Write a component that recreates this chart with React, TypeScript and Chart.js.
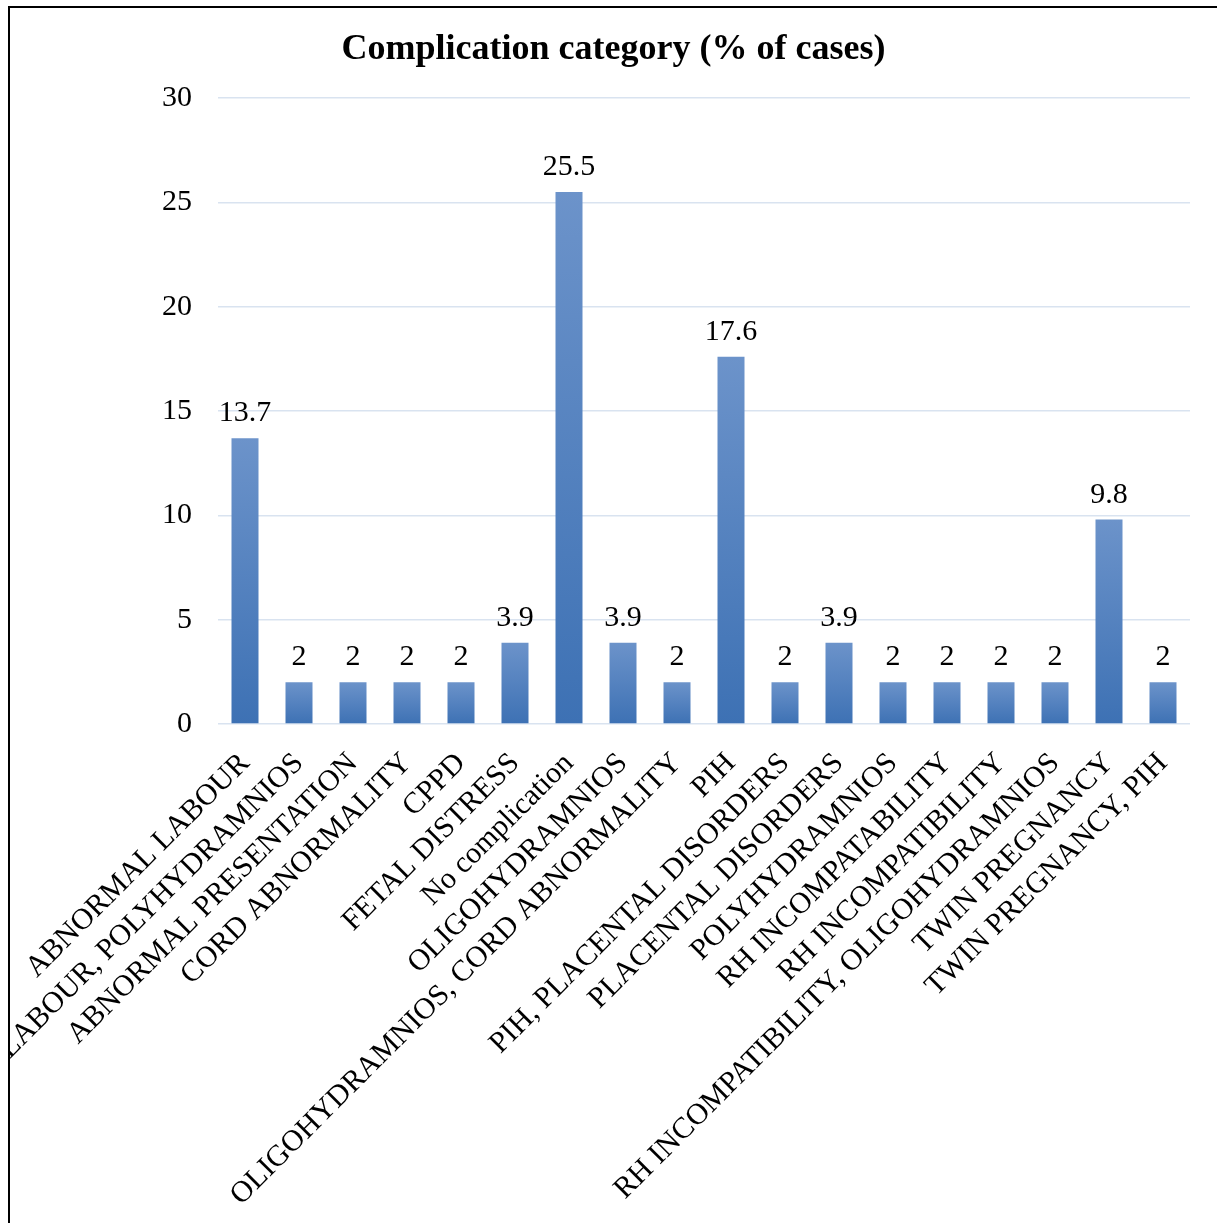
import React, { useEffect, useRef } from "react";
import { Chart, registerables } from "chart.js";

Chart.register(...registerables);

const CHART_TITLE = "Complication category (% of cases)";

const categories = [
  "ABNORMAL LABOUR",
  "ABNORMAL LABOUR, POLYHYDRAMNIOS",
  "ABNORMAL PRESENTATION",
  "CORD ABNORMALITY",
  "CPPD",
  "FETAL DISTRESS",
  "No complication",
  "OLIGOHYDRAMNIOS",
  "OLIGOHYDRAMNIOS, CORD ABNORMALITY",
  "PIH",
  "PIH, PLACENTAL DISORDERS",
  "PLACENTAL DISORDERS",
  "POLYHYDRAMNIOS",
  "RH INCOMPATABILITY",
  "RH INCOMPATIBILITY",
  "RH INCOMPATIBILITY, OLIGOHYDRAMNIOS",
  "TWIN PREGNANCY",
  "TWIN PREGNANCY, PIH",
];

const percentValues = [13.7, 2, 2, 2, 2, 3.9, 25.5, 3.9, 2, 17.6, 2, 3.9, 2, 2, 2, 2, 9.8, 2];

const yTickValues = [0, 5, 10, 15, 20, 25, 30];

const FONT = "'Liberation Serif', 'Times New Roman', serif";

const dataLabelPlugin = {
  id: "dataLabels",
  afterDatasetsDraw(chart: any) {
    const ctx = chart.ctx;
    const meta = chart.getDatasetMeta(0);
    ctx.save();
    ctx.font = `30px ${FONT}`;
    ctx.fillStyle = "#000000";
    ctx.textAlign = "center";
    ctx.textBaseline = "alphabetic";
    meta.data.forEach((bar: any, i: number) => {
      const v = chart.data.datasets[0].data[i];
      ctx.fillText(String(v), bar.x, bar.y - 17);
    });
    ctx.restore();
  },
};

export default function App() {
  const canvasRef = useRef<HTMLCanvasElement | null>(null);

  useEffect(() => {
    document.body.style.overflow = "hidden";
    const canvas = canvasRef.current;
    if (!canvas) return;
    const chart = new Chart(canvas, {
      type: "bar",
      data: {
        labels: categories,
        datasets: [
          {
            data: percentValues,
            backgroundColor: (context: any) => {
              const ch = context.chart;
              const area = ch.chartArea;
              if (!area || context.type !== "data") return "#5585C5";
              const yScale = ch.scales.y;
              const v = context.parsed ? context.parsed.y : percentValues[context.dataIndex];
              const top = yScale.getPixelForValue(v);
              const bottom = yScale.getPixelForValue(0);
              if (!isFinite(top) || !isFinite(bottom) || top === bottom) return "#5585C5";
              const g = ch.ctx.createLinearGradient(0, top, 0, bottom);
              g.addColorStop(0, "#6C93CA");
              g.addColorStop(1, "#3D71B4");
              return g;
            },
            borderWidth: 0,
            categoryPercentage: 1,
            barPercentage: 0.5,
          },
        ],
      },
      options: {
        animation: false,
        responsive: true,
        maintainAspectRatio: false,
        layout: { padding: 0 },
        plugins: {
          legend: { display: false },
          tooltip: { enabled: false },
          title: {
            display: true,
            text: CHART_TITLE,
            color: "#000000",
            font: { family: FONT, size: 36, weight: "bold" },
            padding: { top: 20, bottom: 27 },
          },
        },
        scales: {
          x: {
            grid: { display: false, drawTicks: false },
            border: { display: false },
            ticks: {
              autoSkip: false,
              maxRotation: 45,
              minRotation: 45,
              color: "#000000",
              padding: 22,
              font: { family: FONT, size: 30 },
            },
            afterFit: (scale: any) => {
              scale.height = 499;
              scale.paddingLeft = 0;
              scale.paddingRight = 27;
            },
          },
          y: {
            min: 0,
            max: 30,
            afterBuildTicks: (scale: any) => {
              scale.ticks = yTickValues.map((v) => ({ value: v }));
            },
            grid: {
              color: "#D9E3F0",
              lineWidth: 1.5,
              drawTicks: false,
            },
            border: { display: false },
            ticks: {
              color: "#000000",
              padding: 26,
              font: { family: FONT, size: 30 },
            },
            afterFit: (scale: any) => {
              scale.width = 208;
            },
          },
        },
      },
      plugins: [dataLabelPlugin],
    });
    return () => chart.destroy();
  }, []);

  return (
    <div
      style={{
        position: "absolute",
        left: 8,
        top: 6,
        width: 1209,
        height: 1217,
        boxSizing: "border-box",
        borderLeft: "2px solid #000",
        borderTop: "2px solid #000",
        background: "#fff",
        overflow: "hidden",
      }}
    >
      <div style={{ position: "relative", width: 1207, height: 1215 }}>
        <canvas ref={canvasRef} />
      </div>
    </div>
  );
}
